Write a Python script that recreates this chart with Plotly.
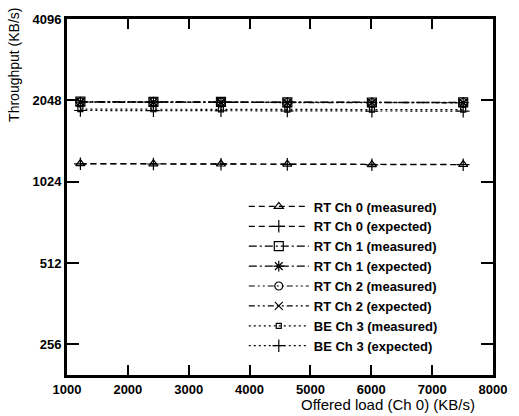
import plotly.graph_objects as go

offered_load = [1220, 2420, 3530, 4620, 6010, 7510]

rt0_measured = [1195, 1192, 1190, 1188, 1183, 1185]
rt0_expected = [1192, 1190, 1188, 1186, 1182, 1183]
rt1_measured = [2025, 2022, 2020, 2012, 2010, 2012]
rt1_expected = [2018, 2016, 2014, 2008, 2006, 2008]
rt2_measured = [2022, 2020, 2018, 2010, 2008, 2010]
rt2_expected = [2015, 2013, 2011, 2005, 2003, 2005]
be3_measured = [1900, 1898, 1895, 1892, 1890, 1892]
be3_expected = [1878, 1876, 1874, 1870, 1866, 1868]

series_names = [
    "RT Ch 0 (measured)", "RT Ch 0 (expected)",
    "RT Ch 1 (measured)", "RT Ch 1 (expected)",
    "RT Ch 2 (measured)", "RT Ch 2 (expected)",
    "BE Ch 3 (measured)", "BE Ch 3 (expected)",
]
series_values = [rt0_measured, rt0_expected, rt1_measured, rt1_expected,
                 rt2_measured, rt2_expected, be3_measured, be3_expected]
symbols = ["triangle-up-open", "cross-thin-open", "square-open", "asterisk-open",
           "circle-open", "x-thin-open", "square-open", "cross-thin-open"]
sizes = [8, 9, 9, 9, 8, 8, 5, 9]
dashes = ["6px,4px", "6px,4px", "8px,3px,2px,3px", "8px,3px,2px,3px",
          "6px,3px,2px,3px,2px,3px", "6px,3px,2px,3px,2px,3px", "2px,3px", "2px,3px"]

y_ticks = [256, 512, 1024, 2048, 4096]
x_ticks = [1000, 2000, 3000, 4000, 5000, 6000, 7000, 8000]

fig = go.Figure()
for name, vals, sym, sz, dsh in zip(series_names, series_values, symbols, sizes, dashes):
    fig.add_trace(go.Scatter(
        x=offered_load, y=vals, name=name, mode="lines+markers",
        line=dict(color="black", width=1.2, dash=dsh),
        marker=dict(symbol=sym, size=sz, color="black",
                    line=dict(color="black", width=1.2)),
    ))

axis_font = dict(family="Liberation Sans, Arial, sans-serif", size=13, color="black", weight="bold")

fig.update_layout(
    width=519, height=416,
    margin=dict(l=67, r=13, t=13, b=41),
    paper_bgcolor="white", plot_bgcolor="white",
    showlegend=True,
    legend=dict(
        x=0.415, xanchor="left", y=0.038, yanchor="bottom",
        bgcolor="rgba(0,0,0,0)", borderwidth=0,
        font=dict(family="Liberation Sans, Arial, sans-serif", size=13, color="black", weight="bold"),
        itemwidth=60, tracegroupgap=0,
    ),
    xaxis=dict(
        range=[1000, 8000], tickvals=x_ticks, ticktext=[str(v) for v in x_ticks],
        ticks="inside", ticklen=10, tickwidth=1.5, tickcolor="black",
        showline=True, linecolor="black", linewidth=3, mirror="ticks",
        showgrid=False, zeroline=False, tickfont=axis_font,
    ),
    yaxis=dict(
        type="log", range=[2.2945, 3.6124], tickvals=y_ticks,
        ticktext=[str(v) for v in y_ticks],
        ticks="inside", ticklen=12, tickwidth=1.5, tickcolor="black",
        showline=True, linecolor="black", linewidth=3, mirror="ticks",
        showgrid=False, zeroline=False, tickfont=axis_font,
    ),
    annotations=[
        dict(text="Offered load (Ch 0) (KB/s)", xref="paper", yref="paper",
             x=0.754, y=-0.083, xanchor="center", yanchor="middle", showarrow=False,
             font=dict(family="Liberation Sans, Arial, sans-serif", size=15, color="black")),
        dict(text="Throughput (KB/s)", xref="paper", yref="paper", textangle=-90,
             x=-0.123, y=0.87, xanchor="center", yanchor="middle", showarrow=False,
             font=dict(family="Liberation Sans, Arial, sans-serif", size=14, color="black")),
    ],
)

fig.write_html("out.html")
